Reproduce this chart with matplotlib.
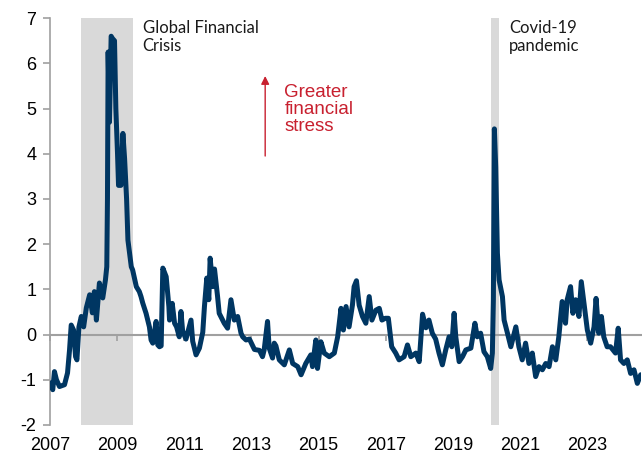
import matplotlib
matplotlib.use("Agg")
import matplotlib.pyplot as plt

# Financial stress index, sampled from the weekly series (decimal year, index level)
years = [
    2007.00, 2007.08, 2007.13, 2007.19, 2007.28, 2007.43, 2007.52, 2007.58, 2007.63, 2007.70,
    2007.76, 2007.80, 2007.86, 2007.93, 2008.00, 2008.08, 2008.18, 2008.26, 2008.32, 2008.38,
    2008.47, 2008.57, 2008.65, 2008.69, 2008.71, 2008.73, 2008.77, 2008.82, 2008.86, 2008.92,
    2008.96, 2009.01, 2009.04, 2009.11, 2009.17, 2009.22, 2009.28, 2009.32, 2009.37, 2009.42,
    2009.46, 2009.57, 2009.66, 2009.71, 2009.76, 2009.86, 2009.96, 2010.01, 2010.06, 2010.16,
    2010.21, 2010.26, 2010.31, 2010.36, 2010.46, 2010.54, 2010.56, 2010.64, 2010.71, 2010.77,
    2010.85, 2010.90, 2010.95, 2011.05, 2011.20, 2011.25, 2011.35, 2011.45, 2011.55, 2011.60,
    2011.67, 2011.73, 2011.77, 2011.85, 2011.90, 2011.99, 2012.04, 2012.19, 2012.29, 2012.39,
    2012.49, 2012.59, 2012.69, 2012.74, 2012.84, 2012.94, 2013.09, 2013.24, 2013.33, 2013.38,
    2013.48, 2013.53, 2013.63, 2013.68, 2013.73, 2013.83, 2013.98, 2014.13, 2014.23, 2014.38,
    2014.48, 2014.62, 2014.77, 2014.82, 2014.92, 2014.97, 2015.07, 2015.17, 2015.32, 2015.47,
    2015.57, 2015.67, 2015.74, 2015.82, 2015.91, 2016.01, 2016.06, 2016.13, 2016.21, 2016.31,
    2016.41, 2016.51, 2016.59, 2016.71, 2016.81, 2016.89, 2016.99, 2017.08, 2017.18, 2017.30,
    2017.40, 2017.55, 2017.65, 2017.75, 2017.90, 2018.00, 2018.10, 2018.20, 2018.29, 2018.39,
    2018.49, 2018.59, 2018.69, 2018.79, 2018.89, 2018.97, 2019.04, 2019.09, 2019.19, 2019.29,
    2019.39, 2019.54, 2019.66, 2019.73, 2019.83, 2019.93, 2020.03, 2020.13, 2020.18, 2020.21,
    2020.24, 2020.28, 2020.31, 2020.33, 2020.38, 2020.48, 2020.53, 2020.63, 2020.73, 2020.88,
    2020.97, 2021.07, 2021.17, 2021.27, 2021.37, 2021.47, 2021.57, 2021.67, 2021.77, 2021.87,
    2021.97, 2022.07, 2022.16, 2022.26, 2022.36, 2022.41, 2022.51, 2022.58, 2022.66, 2022.76,
    2022.83, 2022.91, 2023.01, 2023.11, 2023.21, 2023.27, 2023.35, 2023.43, 2023.50, 2023.60,
    2023.70, 2023.85, 2023.93, 2024.00, 2024.10, 2024.20, 2024.30, 2024.40, 2024.50, 2024.60,
]
stress = [
    -1.07, -1.22, -0.82, -1.00, -1.15, -1.11, -0.85, -0.34, 0.21, 0.10,
    -0.49, -0.56, 0.17, 0.40, 0.17, 0.59, 0.88, 0.48, 0.95, 0.32,
    1.14, 0.81, 1.21, 1.50, 3.00, 6.25, 4.70, 6.60, 6.55, 6.50,
    5.00, 4.00, 3.30, 3.30, 4.45, 3.90, 3.00, 2.09, 1.80, 1.50,
    1.43, 1.06, 0.95, 0.84, 0.70, 0.47, 0.17, -0.12, -0.19, 0.29,
    -0.23, -0.27, -0.25, 1.47, 1.28, 0.62, 0.32, 0.69, 0.25, 0.17,
    -0.05, 0.51, 0.08, -0.10, 0.32, -0.15, -0.45, -0.30, 0.05, 0.62,
    1.25, 0.77, 1.69, 1.06, 1.45, 0.85, 0.47, 0.25, 0.14, 0.77,
    0.32, 0.40, 0.03, -0.05, -0.12, -0.10, -0.33, -0.35, -0.49, -0.34,
    0.29, -0.30, -0.52, -0.19, -0.25, -0.56, -0.67, -0.34, -0.64, -0.71,
    -0.89, -0.64, -0.45, -0.71, -0.12, -0.75, -0.16, -0.41, -0.49, -0.41,
    -0.05, 0.58, 0.10, 0.62, 0.17, 0.65, 1.06, 1.19, 0.65, 0.40,
    0.25, 0.84, 0.32, 0.54, 0.58, 0.32, 0.36, 0.36, -0.27, -0.41,
    -0.56, -0.49, -0.23, -0.49, -0.41, -0.60, 0.45, 0.15, 0.32, 0.03,
    -0.10, -0.41, -0.67, -0.34, -0.05, -0.27, 0.47, -0.05, -0.60, -0.49,
    -0.34, -0.30, 0.25, -0.05, 0.03, -0.38, -0.49, -0.75, -0.41, 0.77,
    4.55, 3.70, 2.50, 1.80, 1.21, 0.84, 0.32, 0.03, -0.27, 0.17,
    -0.27, -0.56, -0.19, -0.64, -0.41, -0.93, -0.71, -0.78, -0.64, -0.71,
    -0.27, -0.56, -0.05, 0.73, 0.25, 0.77, 1.06, 0.47, 0.77, 0.40,
    1.17, 0.69, 0.10, -0.19, 0.17, 0.80, 0.03, 0.40, -0.05, -0.27,
    -0.27, -0.41, 0.14, -0.56, -0.64, -0.56, -0.86, -0.78, -1.08, -0.89,
]

# Shaded episodes: (start, end, label)
episodes = [
    (2007.92, 2009.46, "Global Financial\nCrisis"),
    (2020.14, 2020.38, "Covid-19\npandemic"),
]

year_ticks = [2007, 2009, 2011, 2013, 2015, 2017, 2019, 2021, 2023]
value_ticks = [-2, -1, 0, 1, 2, 3, 4, 5, 6, 7]

LINE_COLOR = "#003662"
SHADE_COLOR = "#D9D9D9"
AXIS_COLOR = "#A0A0A0"
RED = "#C8202F"

plt.rcParams["font.family"] = ["Liberation Sans", "DejaVu Sans"]

fig = plt.figure(figsize=(6.42, 4.54), dpi=100)
ax = fig.add_axes([0.078, 0.064, 0.921, 0.896])

for start, end, label in episodes:
    ax.axvspan(start, end, color=SHADE_COLOR, lw=0, zorder=0)
    ax.text(end + 0.30, 6.97, label, ha="left", va="top", fontsize=12,
            family=["Lato", "DejaVu Sans"], color="#1A1A1A", linespacing=1.2)

ax.plot(years, stress, color=LINE_COLOR, lw=3.6, solid_joinstyle="round",
        solid_capstyle="round", zorder=3)

# arrow pointing up to "Greater financial stress"
ax.annotate("", xy=(2013.41, 5.72), xytext=(2013.41, 3.95),
            arrowprops=dict(arrowstyle="-|>", color=RED, lw=1.0,
                            mutation_scale=12, shrinkA=0, shrinkB=0))
ax.text(2013.98, 5.55, "Greater\nfinancial\nstress", ha="left", va="top",
        fontsize=13.5, color=RED, linespacing=1.0)

ax.set_xlim(2007, 2024.62)
ax.set_ylim(-2, 7)

for side in ("top", "right"):
    ax.spines[side].set_visible(False)
ax.spines["left"].set_color(AXIS_COLOR)
ax.spines["left"].set_linewidth(1.2)
ax.spines["bottom"].set_position(("data", 0))
ax.spines["bottom"].set_color(AXIS_COLOR)
ax.spines["bottom"].set_linewidth(1.5)
ax.spines["bottom"].set_zorder(2)

ax.set_yticks(value_ticks)
ax.set_yticklabels([str(v) for v in value_ticks])
ax.set_xticks(year_ticks)
ax.tick_params(axis="y", direction="out", length=5, width=1.2,
               color=AXIS_COLOR, labelsize=13, pad=5)
ax.tick_params(axis="x", direction="out", length=4, width=1.2,
               color=AXIS_COLOR, labelbottom=False)

# year labels sit along the bottom edge, below the zero line
sec = ax.secondary_xaxis(0.0)
sec.set_xticks(year_ticks)
sec.set_xticklabels([str(y) for y in year_ticks])
sec.tick_params(axis="x", length=0, labelsize=13, pad=9)
sec.spines["bottom"].set_visible(False)

fig.savefig("out.png", dpi=100)
